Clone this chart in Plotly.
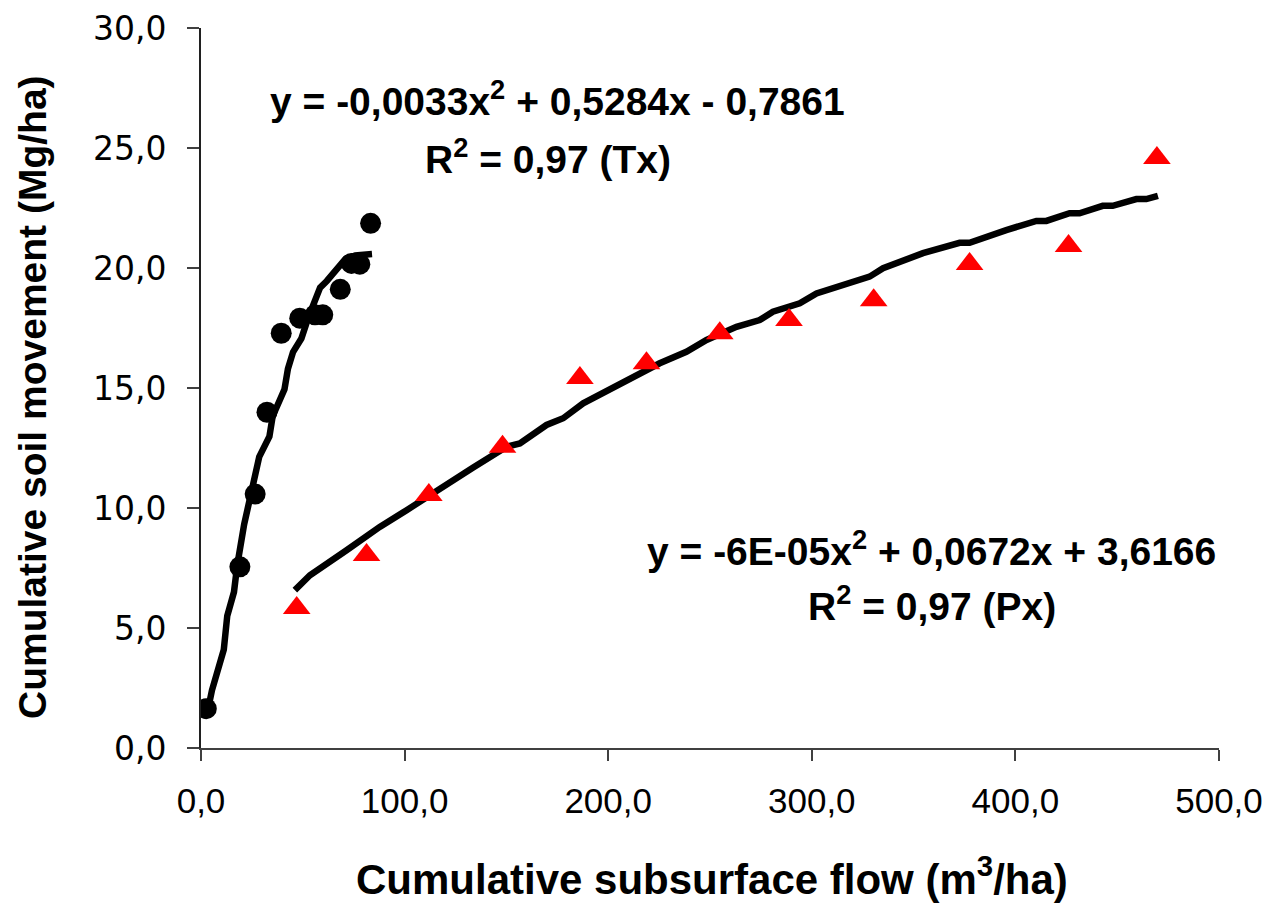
import plotly.graph_objects as go

# Tx observations (black circles)
tx_x = [2.6, 19.1, 26.6, 32.4, 39.4, 48.5, 56.0, 59.8, 68.4, 73.9, 78.0, 83.3]
tx_y = [1.64, 7.55, 10.58, 13.99, 17.28, 17.91, 18.05, 18.05, 19.11, 20.19, 20.16, 21.86]

# Tx fitted curve as drawn
tx_fit_x = [3.7, 5.4, 11.2, 12.9, 16.2, 17.8, 21.2, 23.6, 26.9, 28.6, 33.6, 35.2, 41.0, 42.7,
            45.2, 49.3, 52.6, 55.1, 58.5, 61.8, 65.9, 70.9, 75.8, 84.0]
tx_fit_y = [1.71, 2.41, 4.10, 5.51, 6.50, 7.62, 9.32, 10.16, 11.29, 12.13, 12.98, 13.82, 14.95, 15.80,
            16.50, 17.06, 17.91, 18.47, 19.18, 19.46, 19.88, 20.37, 20.52, 20.58]

# Px observations (red triangles)
px_x = [47.0, 81.3, 111.9, 148.1, 186.1, 218.8, 254.8, 288.8, 330.4, 377.5, 426.1, 469.5]
px_y = [5.83, 8.04, 10.54, 12.55, 15.42, 16.03, 17.28, 17.83, 18.66, 20.17, 20.92, 24.58]

# Px fitted curve as drawn
px_fit_x = [46.1, 53.5, 71.5, 87.8, 101.0, 117.3, 133.7, 150.1, 156.6, 169.7, 177.9, 187.7, 195.9,
            204.1, 212.2, 225.3, 238.4, 248.3, 263.0, 274.4, 280.9, 294.1, 302.3, 317.0, 328.4, 335.0,
            343.1, 354.6, 372.6, 377.5, 395.5, 410.3, 415.2, 426.6, 431.5, 442.9, 447.8, 459.4, 464.3, 470.0]
px_fit_y = [6.58, 7.20, 8.24, 9.21, 9.91, 10.82, 11.69, 12.55, 12.69, 13.46, 13.74, 14.36, 14.71,
            15.05, 15.40, 16.03, 16.51, 17.00, 17.55, 17.83, 18.18, 18.53, 18.94, 19.37, 19.64, 19.99,
            20.23, 20.62, 21.05, 21.05, 21.58, 21.96, 21.96, 22.28, 22.28, 22.59, 22.59, 22.87, 22.87, 23.01]

x_ticks = [0, 100, 200, 300, 400, 500]
x_tick_labels = ["0,0", "100,0", "200,0", "300,0", "400,0", "500,0"]
y_ticks = [0, 5, 10, 15, 20, 25, 30]
y_tick_labels = ["0,0", "5,0", "10,0", "15,0", "20,0", "25,0", "30,0"]

eq_tx = "y = -0,0033x<sup>2</sup> + 0,5284x - 0,7861"
r2_tx = "R<sup>2</sup> = 0,97 (Tx)"
eq_px = "y = -6E-05x<sup>2</sup> + 0,0672x + 3,6166"
r2_px = "R<sup>2</sup> = 0,97 (Px)"
x_title = "Cumulative subsurface flow (m<sup>3</sup>/ha)"
y_title = "Cumulative soil movement (Mg/ha)"

FONT = "Liberation Sans, Arial, sans-serif"
WIDE = "DejaVu Sans, Verdana, sans-serif"

fig = go.Figure()
fig.add_trace(go.Scatter(x=tx_fit_x, y=tx_fit_y, mode="lines",
                         line=dict(color="black", width=6.5), showlegend=False))
fig.add_trace(go.Scatter(x=px_fit_x, y=px_fit_y, mode="lines",
                         line=dict(color="black", width=6.5), showlegend=False))
fig.add_trace(go.Scatter(x=tx_x, y=tx_y, mode="markers",
                         marker=dict(symbol="circle", size=21, color="black"), showlegend=False))
fig.add_trace(go.Scatter(x=px_x, y=px_y, mode="markers",
                         marker=dict(symbol="triangle-up", size=24, color="#ff0000"), showlegend=False))

ann_font = dict(family=FONT, size=39, color="black")
annotations = [
    dict(text="<b>%s</b>" % eq_tx, x=0.3506, y=0.9016, xref="paper", yref="paper",
         showarrow=False, font=ann_font, xanchor="center", yanchor="middle"),
    dict(text="<b>%s</b>" % r2_tx, x=0.3408, y=0.8217, xref="paper", yref="paper",
         showarrow=False, font=ann_font, xanchor="center", yanchor="middle"),
    dict(text="<b>%s</b>" % eq_px, x=0.7179, y=0.2768, xref="paper", yref="paper",
         showarrow=False, font=ann_font, xanchor="center", yanchor="middle"),
    dict(text="<b>%s</b>" % r2_px, x=0.7179, y=0.2004, xref="paper", yref="paper",
         showarrow=False, font=ann_font, xanchor="center", yanchor="middle"),
    dict(text="<b>%s</b>" % x_title, x=0.5018, y=-0.178, xref="paper", yref="paper",
         showarrow=False, font=dict(family=FONT, size=42, color="black"),
         xanchor="center", yanchor="middle"),
    dict(text="<b>%s</b>" % y_title, x=-0.165, y=0.4875, xref="paper", yref="paper",
         showarrow=False, font=dict(family=FONT, size=39, color="black"),
         xanchor="center", yanchor="middle", textangle=-90),
]

# page body has an 8px margin: shrink the figure so the plot lands where the reference has it
fig.update_layout(
    width=1271, height=898,
    margin=dict(l=193, r=60, t=20, b=158),
    paper_bgcolor="white", plot_bgcolor="white",
    annotations=annotations,
    showlegend=False,
)
fig.update_xaxes(range=[0, 500], tickvals=x_ticks, ticktext=x_tick_labels, automargin=False,
                 showgrid=False, zeroline=False, showline=True, linecolor="#404040", linewidth=2,
                 ticks="outside", ticklen=11, tickwidth=1.5, tickcolor="#404040",
                 tickfont=dict(family=FONT, size=35, color="black"), ticklabelstandoff=10)
fig.update_yaxes(range=[0, 30], tickvals=y_ticks, ticktext=y_tick_labels, automargin=False,
                 showgrid=False, zeroline=False, showline=True, linecolor="#202020", linewidth=2,
                 ticks="outside", ticklen=12, tickwidth=1.5, tickcolor="#404040",
                 tickfont=dict(family=WIDE, size=33, color="black"), ticklabelstandoff=14)

fig.write_html("out.html")
